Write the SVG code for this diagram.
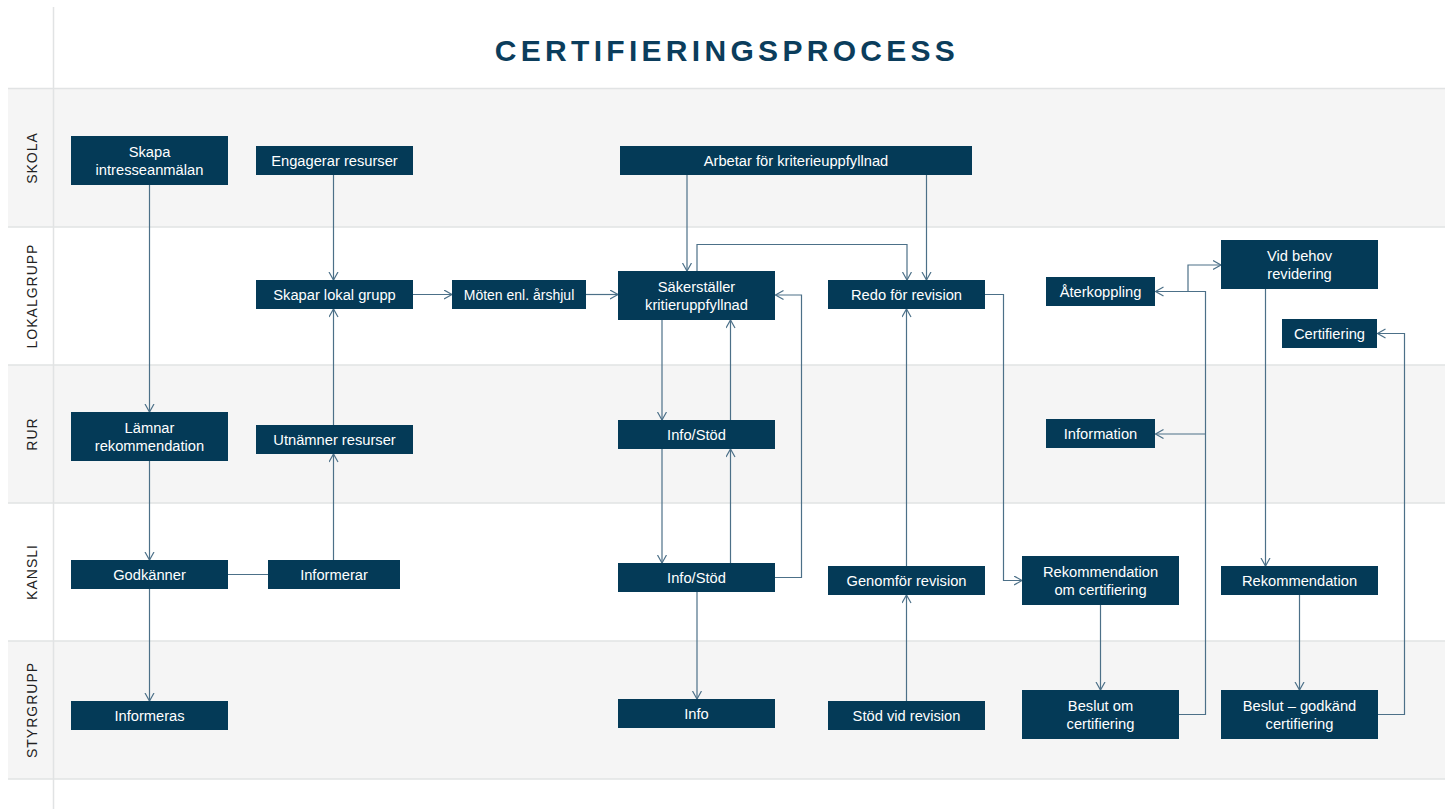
<svg xmlns="http://www.w3.org/2000/svg" width="1451" height="809" viewBox="0 0 1451 809">
<defs>
<style>
.lane{fill:#f5f5f5}
.sep{stroke:#e1e3e4;stroke-width:1.5;fill:none}
.lbl{font-family:"Liberation Sans",Arial,sans-serif;font-size:14px;letter-spacing:1px;fill:#222;text-anchor:middle}
.box{fill:#043a57}
.t{font-family:"Liberation Sans",Arial,sans-serif;font-size:14.7px;fill:#ffffff;text-anchor:middle}
.c{fill:none;stroke:#4c7088;stroke-width:1.2}
.a{marker-end:url(#arr)}
.title{font-family:"Liberation Sans",Arial,sans-serif;font-size:30px;font-weight:bold;letter-spacing:4.3px;fill:#0b3d5c;text-anchor:middle}
</style>
<marker id="arr" markerUnits="userSpaceOnUse" markerWidth="12" markerHeight="12" refX="8.5" refY="5" orient="auto">
<path d="M0.5,0.5 L8.5,5 L0.5,9.5" fill="none" stroke="#4c7088" stroke-width="1.2"/>
</marker>
</defs>
<rect x="0" y="0" width="1451" height="809" fill="#ffffff"/>
<g id="lanes">
<rect class="lane" x="8" y="88" width="1437" height="139"/>
<rect class="lane" x="8" y="365" width="1437" height="138"/>
<rect class="lane" x="8" y="641" width="1437" height="138"/>
<path class="sep" d="M8,88.5H1445M8,227H1445M8,365H1445M8,503H1445M8,641H1445M8,779H1445"/>
<path class="sep" d="M53.5,7V809"/>
<text class="lbl" transform="translate(36.5,158) rotate(-90)">SKOLA</text>
<text class="lbl" transform="translate(36.5,296) rotate(-90)">LOKALGRUPP</text>
<text class="lbl" transform="translate(36.5,434) rotate(-90)">RUR</text>
<text class="lbl" transform="translate(36.5,572) rotate(-90)">KANSLI</text>
<text class="lbl" transform="translate(36.5,710) rotate(-90)">STYRGRUPP</text>
</g>
<text class="title" x="727" y="61">CERTIFIERINGSPROCESS</text>
<g id="connectors">
<path class="c a" d="M149.5,185V412"/>
<path class="c a" d="M149.5,461V560"/>
<path class="c a" d="M149.5,589V701"/>
<path class="c" d="M228,574.5H268"/>
<path class="c a" d="M333.5,560V454"/>
<path class="c a" d="M333.5,425V309"/>
<path class="c a" d="M333.5,175V280"/>
<path class="c a" d="M413,294.5H452"/>
<path class="c a" d="M586,294.5H618"/>
<path class="c a" d="M687,175V271"/>
<path class="c a" d="M926.5,175V280"/>
<path class="c a" d="M697,271V244.5H907V280"/>
<path class="c a" d="M775,577.5H801.5V295H775.5"/>
<path class="c a" d="M662,320V420"/>
<path class="c a" d="M730.5,420V320"/>
<path class="c a" d="M662,449V563"/>
<path class="c a" d="M730.5,563V449"/>
<path class="c a" d="M697,592V699"/>
<path class="c a" d="M906.5,701V595"/>
<path class="c a" d="M906.5,566V309"/>
<path class="c a" d="M985,294.5H1003.5V580.5H1022"/>
<path class="c a" d="M1100.5,605V690"/>
<path class="c a" d="M1179,714.5H1205.5V291.5H1155.5"/>
<path class="c a" d="M1188,291.5V265H1221"/>
<path class="c a" d="M1205.5,434H1155.5"/>
<path class="c a" d="M1265.5,289V566"/>
<path class="c a" d="M1299.5,595V690"/>
<path class="c a" d="M1378,714.5H1404.5V333.5H1377.5"/>
</g>
<g id="n1"><rect class="box" x="71" y="136" width="157" height="49"/><text class="t" x="149.5" y="157">Skapa</text><text class="t" x="149.5" y="174.5">intresseanmälan</text></g>
<g id="n2"><rect class="box" x="256" y="146" width="157" height="29"/><text class="t" x="334.5" y="165.7">Engagerar resurser</text></g>
<g id="n3"><rect class="box" x="620" y="146" width="352" height="29"/><text class="t" x="796" y="165.7">Arbetar för kriterieuppfyllnad</text></g>
<g id="n4"><rect class="box" x="256" y="280" width="157" height="29"/><text class="t" x="334.5" y="299.7">Skapar lokal grupp</text></g>
<g id="n5"><rect class="box" x="452" y="280" width="134" height="29"/><text class="t" x="519" y="299.7" style="font-size:14px">Möten enl. årshjul</text></g>
<g id="n6"><rect class="box" x="618" y="271" width="157" height="49"/><text class="t" x="696.5" y="292">Säkerställer</text><text class="t" x="696.5" y="309.5">kritieruppfyllnad</text></g>
<g id="n7"><rect class="box" x="828" y="280" width="157" height="29"/><text class="t" x="906.5" y="299.7">Redo för revision</text></g>
<g id="n8"><rect class="box" x="1046" y="277" width="109" height="29"/><text class="t" x="1100.5" y="296.7">Återkoppling</text></g>
<g id="n9"><rect class="box" x="1221" y="240" width="157" height="49"/><text class="t" x="1299.5" y="261">Vid behov</text><text class="t" x="1299.5" y="278.5">revidering</text></g>
<g id="n10"><rect class="box" x="1282" y="319" width="95" height="29"/><text class="t" x="1329.5" y="338.7">Certifiering</text></g>
<g id="n11"><rect class="box" x="71" y="412" width="157" height="49"/><text class="t" x="149.5" y="433">Lämnar</text><text class="t" x="149.5" y="450.5">rekommendation</text></g>
<g id="n12"><rect class="box" x="256" y="425" width="157" height="29"/><text class="t" x="334.5" y="444.7">Utnämner resurser</text></g>
<g id="n13"><rect class="box" x="618" y="420" width="157" height="29"/><text class="t" x="696.5" y="439.7">Info/Stöd</text></g>
<g id="n14"><rect class="box" x="1046" y="419" width="109" height="29"/><text class="t" x="1100.5" y="438.7">Information</text></g>
<g id="n15"><rect class="box" x="71" y="560" width="157" height="29"/><text class="t" x="149.5" y="579.7">Godkänner</text></g>
<g id="n16"><rect class="box" x="268" y="560" width="132" height="29"/><text class="t" x="334" y="579.7">Informerar</text></g>
<g id="n17"><rect class="box" x="618" y="563" width="157" height="29"/><text class="t" x="696.5" y="582.7">Info/Stöd</text></g>
<g id="n18"><rect class="box" x="828" y="566" width="157" height="29"/><text class="t" x="906.5" y="585.7">Genomför revision</text></g>
<g id="n19"><rect class="box" x="1022" y="556" width="157" height="49"/><text class="t" x="1100.5" y="577">Rekommendation</text><text class="t" x="1100.5" y="594.5">om certifiering</text></g>
<g id="n20"><rect class="box" x="1221" y="566" width="157" height="29"/><text class="t" x="1299.5" y="585.7">Rekommendation</text></g>
<g id="n21"><rect class="box" x="71" y="701" width="157" height="29"/><text class="t" x="149.5" y="720.7">Informeras</text></g>
<g id="n22"><rect class="box" x="618" y="699" width="157" height="29"/><text class="t" x="696.5" y="718.7">Info</text></g>
<g id="n23"><rect class="box" x="828" y="701" width="157" height="29"/><text class="t" x="906.5" y="720.7">Stöd vid revision</text></g>
<g id="n24"><rect class="box" x="1022" y="690" width="157" height="49"/><text class="t" x="1100.5" y="711">Beslut om</text><text class="t" x="1100.5" y="728.5">certifiering</text></g>
<g id="n25"><rect class="box" x="1221" y="690" width="157" height="49"/><text class="t" x="1299.5" y="711">Beslut – godkänd</text><text class="t" x="1299.5" y="728.5">certifiering</text></g>
</svg>
